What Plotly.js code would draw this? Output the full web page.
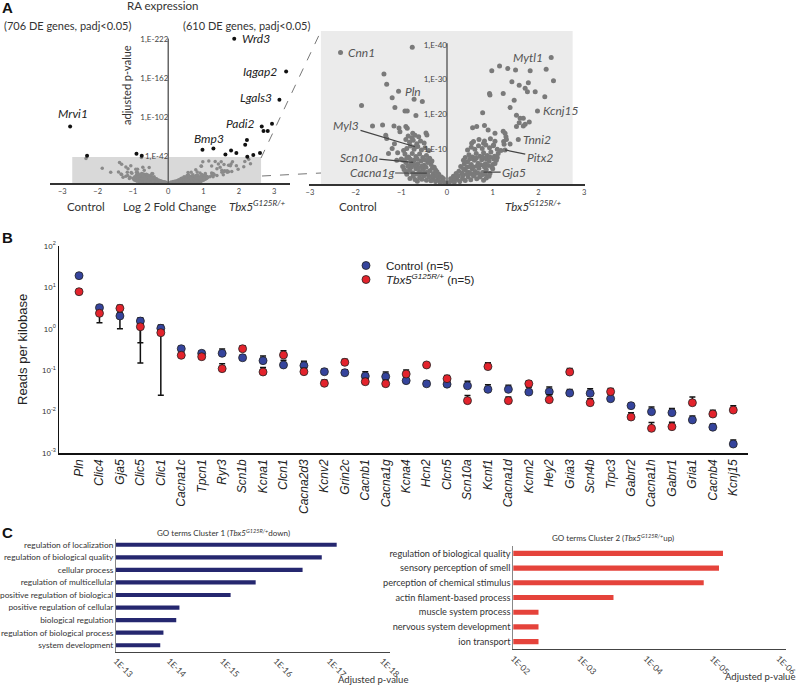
<!DOCTYPE html>
<html>
<head>
<meta charset="utf-8">
<script src="https://cdn.plot.ly/plotly-3.0.1.min.js"></script>
<style>
  html, body { margin: 0; padding: 0; background: #fff; }
  #chart { width: 800px; height: 686px; }
</style>
</head>
<body>
<div id="chart"></div>
<script>
// ---- Panel A: volcano, log2 fold change vs -log10(padj) ----
// genes below 1E-40 (grey, shown in both the overview and the zoom)
const volX = [
  -0.76, -1.38, -1.32, -1.20, -0.72, -0.54, -1.87, -1.14, -0.92, -0.87, -0.68, -1.63, -1.41, -1.16,
  -1.05, -0.90, -0.87, -1.03, -1.34, -1.32, -0.75, -0.70, -0.77, -0.46, -0.44,
  0.98, 1.15, 1.33, 1.50, 1.82, 2.17, 2.33, 0.93, 0.94, 1.23, 1.42, 1.58, 1.78, 1.71, 1.76, 1.93,
  1.47, 2.14, 1.38, 0.78, 1.52, 1.60, 1.67, 1.58, 1.71, 1.80, 1.52, 1.67,
  0.56, 0.65, 0.82, 0.90, 1.05, 1.23, 1.27, 1.29, 1.24, 1.38, 1.02, 0.80, 0.54,
  -0.05, -0.10, -0.15, -0.20, -0.25, -0.30, -0.35, -0.40, -0.45, -0.50, -0.55, -0.60, -0.65, -0.70,
  -0.12, -0.18, -0.22, -0.30, -0.38, -0.45, -0.52, -0.60, -0.68, -0.75, -0.82, -0.88,
  -0.28, -0.35, -0.42, -0.50, -0.57, -0.64, -0.72, -0.80, -0.90, -0.97,
  -0.38, -0.45, -0.53, -0.60, -0.68, -0.76, -0.84, -0.92, -1.00,
  -0.40, -0.48, -0.56, -0.64, -0.72, -0.80, -0.88, -0.95, -1.08,
  -0.50, -0.58, -0.66, -0.74, -0.82, -0.90, -1.15, -0.62, -0.85, -1.20, -1.28, -1.10,
  -0.08, -0.16, -0.24, -0.33, -0.42, -0.50, -0.58, -0.66, -0.74, -0.81, -0.90, -0.25, -0.32, -0.46,
  -0.55, -0.62, -0.70, -0.78, -0.86, -0.94, -0.33, -0.40, -0.48, -0.65, -0.80, -0.88, -0.96,
  0.05, 0.10, 0.16, 0.22, 0.28, 0.34, 0.40, 0.46, 0.52, 0.58, 0.65, 0.72, 0.80, 0.86,
  0.14, 0.20, 0.26, 0.33, 0.40, 0.47, 0.55, 0.62, 0.70, 0.78, 0.86, 0.94, 1.00,
  0.30, 0.38, 0.45, 0.53, 0.60, 0.68, 0.76, 0.84, 0.92, 1.00, 1.08,
  0.40, 0.48, 0.56, 0.64, 0.72, 0.80, 0.88, 0.96, 1.04, 1.12,
  0.45, 0.53, 0.61, 0.69, 0.77, 0.85, 0.93, 1.01, 1.10, 1.18,
  0.58, 0.70, 0.82, 0.95, 1.05, 1.25, 1.30,
  0.08, 0.17, 0.25, 0.35, 0.44, 0.52, 0.60, 0.68, 0.76, 0.84, 0.92, 0.36, 0.44, 0.50, 0.58,
  0.66, 0.74, 0.82, 0.90, 0.98, 1.05, 0.36, 0.50, 0.64, 0.78, 0.86, 0.94, 1.02, 1.10
];
const volY = [
  39.3, 31.6, 28.7, 24.8, 24.4, 23.7, 22.6, 22.0, 21.0, 21.0, 19.7, 16.7, 17.0, 16.7,
  16.1, 16.5, 16.0, 15.0, 14.0, 13.1, 14.6, 14.0, 13.3, 14.7, 14.1,
  32.6, 33.9, 33.2, 32.8, 32.6, 33.0, 29.7, 26.0, 25.6, 26.0, 29.4, 28.4, 29.1, 27.5, 26.5, 26.5,
  24.1, 25.1, 22.0, 20.5, 19.8, 18.9, 18.9, 17.6, 17.2, 17.8, 16.5, 16.7,
  16.2, 16.5, 16.8, 15.5, 14.6, 15.2, 14.6, 13.6, 12.2, 11.5, 11.2, 11.7, 11.7,
  0.4, 0.8, 0.5, 1.2, 0.7, 1.5, 0.9, 2.0, 1.1, 2.4, 1.4, 1.8, 0.8, 1.3,
  2.0, 2.8, 3.5, 3.0, 3.8, 3.3, 4.2, 3.6, 4.4, 3.2, 4.0, 2.8,
  4.8, 5.6, 6.2, 5.4, 6.6, 5.8, 6.8, 5.6, 6.2, 5.0,
  7.4, 8.2, 7.6, 8.6, 7.9, 8.8, 7.8, 8.6, 7.2,
  9.6, 10.4, 9.8, 10.8, 10.0, 10.9, 10.2, 9.6, 9.0,
  11.8, 12.4, 11.6, 12.6, 12.0, 12.8, 11.6, 13.6, 13.8, 10.2, 8.8, 6.8,
  1.6, 1.9, 2.3, 2.2, 2.9, 3.1, 2.7, 2.9, 2.2, 1.6, 3.6, 4.0, 4.5, 4.8,
  5.2, 4.7, 5.4, 4.8, 5.1, 4.2, 6.6, 7.0, 6.9, 7.2, 7.1, 7.5, 6.8,
  0.4, 0.9, 0.5, 1.3, 0.7, 1.6, 1.0, 2.1, 1.2, 2.3, 1.5, 2.0, 1.1, 1.7,
  2.2, 3.0, 3.7, 3.1, 4.0, 3.4, 4.3, 3.6, 4.5, 3.3, 4.1, 3.0, 4.4,
  5.0, 5.8, 6.4, 5.6, 6.8, 6.0, 7.0, 5.8, 6.6, 5.6, 6.8,
  7.6, 8.4, 7.8, 8.8, 8.0, 9.0, 8.2, 9.2, 8.0, 8.8,
  9.8, 10.6, 10.0, 11.0, 10.2, 11.2, 10.4, 11.0, 10.0, 9.6,
  12.2, 12.8, 12.4, 13.0, 12.3, 11.4, 12.8,
  1.5, 1.8, 2.3, 2.6, 2.9, 3.0, 2.8, 3.1, 2.6, 2.9, 2.2, 4.4, 4.9, 5.0, 4.9,
  5.2, 5.5, 4.9, 5.3, 4.9, 5.9, 6.8, 7.2, 7.4, 7.8, 7.2, 7.8, 7.2, 7.6
];
// genes above 1E-40 (black, overview only)
const topX = [-2.30, -0.90, -0.75, 2.94, 2.70, 2.82, 2.23, 2.18, 0.97, 1.62, 1.78, 1.93, 2.24, 2.41, 2.60];
const topY = [42, 45, 42, 91, 80, 80, 66, 59, 51, 44, 50, 46, 40.5, 43, 46];
// labelled genes
const topGenes = ['Mrvi1', 'Wrd3', 'Iqgap2', 'Lgals3', 'Padi2', 'Bmp3'];
const topGeneX = [-2.78, 1.87, 3.34, 3.15, 2.65, 1.28];
const topGeneY = [87, 222, 171.5, 128, 87, 53];
const zoomGenes = ['Cnn1', 'Pln', 'Mytl1', 'Kcnj15', 'Tnni2', 'Myl3', 'Scn10a', 'Cacna1g', 'Pitx2', 'Gja5'];
const zoomGeneX = [-2.33, -1.06, 2.28, 1.98, 1.56, -0.70, -0.74, -0.44, 1.27, 0.80];
const zoomGeneY = [37.8, 26.7, 36.4, 21.0, 12.8, 10.7, 6.2, 3.1, 9.8, 3.4];

// ---- Panel B: reads per kilobase ----
const ionGenes = ['Pln', 'Clic4', 'Gja5', 'Clic5', 'Clic1', 'Cacna1c', 'Tpcn1', 'Ryr3', 'Scn1b', 'Kcna1',
  'Clcn1', 'Cacna2d3', 'Kcnv2', 'Grin2c', 'Cacnb1', 'Cacna1g', 'Kcna4', 'Hcn2', 'Clcn5', 'Scn10a',
  'Kcnf1', 'Cacna1d', 'Kcnn2', 'Hey2', 'Gria3', 'Scn4b', 'Trpc3', 'Gabrr2', 'Cacna1h', 'Gabrr1',
  'Gria1', 'Cacnb4', 'Kcnj15'];
const ctrlRpk = [19.2, 3.24, 2.04, 1.54, 1.03, 0.33, 0.256, 0.256, 0.2, 0.17, 0.134, 0.129, 0.092, 0.087,
  0.072, 0.07, 0.056, 0.047, 0.046, 0.042, 0.0345, 0.0345, 0.0297, 0.0303, 0.0281, 0.0276, 0.0205,
  0.0139, 0.00995, 0.0094, 0.0063, 0.0042, 0.00165];
const ctrlErrUp = [2.0, 0.4, 0.4, 0.3, 0.2, 0.05, 0.04, 0.07, 0.03, 0.05, 0.04, 0.035, 0.015, 0.015,
  0.02, 0.02, 0.012, 0.008, 0.01, 0.012, 0.01, 0.009, 0.009, 0.009, 0.006, 0.008, 0.006,
  0.002, 0.003, 0.0025, 0.0015, 0.0008, 0.0004];
const ctrlErrDown = [0, 0, 1.04, 1.39, 0, 0, 0, 0, 0, 0, 0, 0, 0, 0, 0, 0, 0, 0, 0, 0, 0, 0, 0, 0, 0, 0, 0, 0, 0, 0, 0, 0, 0];
const tbxRpk = [7.87, 2.37, 3.13, 1.12, 0.805, 0.229, 0.212, 0.109, 0.33, 0.0906, 0.233, 0.092, 0.0483,
  0.155, 0.0527, 0.0472, 0.0809, 0.134, 0.0624, 0.0184, 0.122, 0.0184, 0.0472, 0.0194, 0.0906,
  0.0164, 0.0303, 0.0074, 0.00395, 0.00432, 0.0164, 0.00875, 0.0109];
const tbxErrUp = [1.0, 0.3, 0.6, 0.2, 0.1, 0.03, 0.03, 0.035, 0.06, 0.025, 0.06, 0.02, 0.01, 0.03,
  0.01, 0.01, 0.02, 0.015, 0.012, 0.006, 0.03, 0.004, 0.008, 0.006, 0.02, 0.004, 0.006,
  0.002, 0.0015, 0.0012, 0.006, 0.002, 0.003];
const tbxErrDown = [0, 0.97, 0, 0.66, 0.78, 0, 0, 0, 0, 0, 0, 0, 0, 0, 0, 0, 0, 0, 0, 0, 0, 0, 0, 0, 0, 0, 0, 0, 0, 0, 0, 0, 0];
const rpkTicks = [0.001, 0.01, 0.1, 1, 10, 100];
const rpkTickText = ['10<sup>-3</sup>', '10<sup>-2</sup>', '10<sup>-1</sup>', '10<sup>0</sup>', '10<sup>1</sup>', '10<sup>2</sup>'];

// ---- Panel C: GO terms, -log10(adjusted p) ----
const go1Terms = ['regulation of localization', 'regulation of biological quality', 'cellular process',
  'regulation of multicellular', 'positive regulation of biological', 'positive regulation of cellular',
  'biological regulation', 'regulation of biological process', 'system development'];
const go1Score = [17.14, 16.86, 16.50, 15.62, 15.15, 14.19, 14.13, 13.89, 13.83];
const go1Ticks = [13, 14, 15, 16, 17, 18];
const go1TickText = ['1E-13', '1E-14', '1E-15', '1E-16', '1E-17', '1E-18'];
const go2Terms = ['regulation of biological quality', 'sensory perception of smell', 'perception of chemical stimulus',
  'actin filament-based process', 'muscle system process', 'nervous system development', 'ion transport'];
const go2Score = [5.16, 5.10, 4.87, 3.51, 2.38, 2.38, 2.38];
const go2Ticks = [2, 3, 4, 5, 6];
const go2TickText = ['1E-02', '1E-03', '1E-04', '1E-05', '1E-06'];

// ---- helpers: pixel -> paper ----
const W = 800, H = 686;
const px = x => x / W;
const py = y => 1 - y / H;
const domX = (a, b) => [px(a), px(b)];
const domY = (top, bottom) => [py(bottom), py(top)];

const CAL = 'Lato, "Open Sans", sans-serif';
const ARIAL = '"Liberation Sans", Arial, sans-serif';
const BLUE = '#35449c', RED = '#e3232c';

const traces = [
  { x: volX, y: volY, xaxis: 'x', yaxis: 'y', type: 'scatter', mode: 'markers', showlegend: false,
    marker: { size: 3.5, color: '#8a8a8a' } },
  { x: zoomGeneX, y: zoomGeneY, xaxis: 'x', yaxis: 'y', type: 'scatter', mode: 'markers', showlegend: false,
    marker: { size: 3.5, color: '#8a8a8a' } },
  { x: topX.concat(topGeneX), y: topY.concat(topGeneY), xaxis: 'x', yaxis: 'y', type: 'scatter', mode: 'markers',
    showlegend: false, marker: { size: 4, color: '#111' } },
  { x: volX.concat(zoomGeneX), y: volY.concat(zoomGeneY), xaxis: 'x2', yaxis: 'y2', type: 'scatter', mode: 'markers',
    showlegend: false, marker: { size: 5, color: '#7a7a7a' } },
  { x: ionGenes, y: ctrlRpk, xaxis: 'x3', yaxis: 'y3', type: 'scatter', mode: 'markers', name: 'Control (n=5)',
    legend: 'legend',
    error_y: { type: 'data', symmetric: false, array: ctrlErrUp, arrayminus: ctrlErrDown, color: '#111', thickness: 1.5, width: 3 },
    marker: { size: 8, color: BLUE, line: { color: '#222', width: 0.8 } } },
  { x: ionGenes, y: tbxRpk, xaxis: 'x3', yaxis: 'y3', type: 'scatter', mode: 'markers',
    name: '<i>Tbx5<sup>G125R/+</sup></i> (n=5)', legend: 'legend2',
    error_y: { type: 'data', symmetric: false, array: tbxErrUp, arrayminus: tbxErrDown, color: '#111', thickness: 1.5, width: 3 },
    marker: { size: 8, color: RED, line: { color: '#222', width: 0.8 } } },
  { x: go1Score, y: go1Terms, xaxis: 'x4', yaxis: 'y4', type: 'bar', orientation: 'h', width: 0.33,
    showlegend: false, marker: { color: '#25276f' } },
  { x: go2Score, y: go2Terms, xaxis: 'x5', yaxis: 'y5', type: 'bar', orientation: 'h', width: 0.35,
    showlegend: false, marker: { color: '#e5433b' } }
];

function note(text, x, y, opts) {
  return Object.assign({ text, x: px(x), y: py(y), xref: 'paper', yref: 'paper', showarrow: false,
    xanchor: 'center', yanchor: 'middle',
    font: { family: CAL, size: 12, color: '#333' } }, opts || {});
}

const annotations = [
  note('<b>A</b>', 7, 8, { font: { family: ARIAL, size: 15, color: '#111' } }),
  note('RA expression', 162, 6, { font: { family: CAL, size: 11.5, color: '#333' } }),
  note('(706 DE genes, padj<0.05)', 67, 25, { font: { family: CAL, size: 11, color: '#333' } }),
  note('(610 DE genes, padj<0.05)', 246, 25, { font: { family: CAL, size: 11, color: '#333' } }),
  note('adjusted p-value', 127, 85, { textangle: -90, font: { family: CAL, size: 11, color: '#333' } }),
  note('Control', 86, 207, { font: { family: CAL, size: 11.5, color: '#333' } }),
  note('Log 2 Fold Change', 169, 207, { font: { family: CAL, size: 11.5, color: '#333' } }),
  note('<i>Tbx5<sup>G125R/+</sup></i>', 257, 205, { font: { family: CAL, size: 11.5, color: '#333' } }),
  note('Control', 358, 207, { font: { family: CAL, size: 11.5, color: '#333' } }),
  note('<i>Tbx5<sup>G125R/+</sup></i>', 533, 205, { font: { family: CAL, size: 11.5, color: '#333' } }),
  note('<b>B</b>', 7, 238, { font: { family: ARIAL, size: 15, color: '#111' } }),
  note('Reads per kilobase', 22, 350, { textangle: -90, font: { family: ARIAL, size: 13, color: '#222' } }),
  note('<b>C</b>', 7, 532, { font: { family: ARIAL, size: 15, color: '#111' } }),
  note('GO terms Cluster 1 (<i>Tbx5<sup>G125R/+</sup></i>down)', 223, 532, { font: { family: CAL, size: 8, color: '#333' } }),
  note('GO terms Cluster 2 (<i>Tbx5<sup>G125R/+</sup></i>up)', 613, 537, { font: { family: CAL, size: 8, color: '#333' } }),
  note('Adjusted p-value', 373, 679, { font: { family: CAL, size: 9.5, color: '#333' } }),
  note('Adjusted p-value', 797, 676, { xanchor: 'right', font: { family: CAL, size: 9.5, color: '#333' } })
];

// gene labels: offsets are layout only
const topLabelStyle = {
  Mrvi1: { xshift: 3, yshift: 13 },
  Wrd3: { xanchor: 'left', xshift: 6 },
  Iqgap2: { xanchor: 'right', xshift: -7 },
  Lgals3: { xanchor: 'right', xshift: -5, yshift: 2 },
  Padi2: { xanchor: 'right', xshift: -5, yshift: 3 },
  Bmp3: { xshift: -4, yshift: 10 }
};
topGenes.forEach((g, i) => {
  annotations.push(Object.assign({ text: '<i>' + g + '</i>', x: topGeneX[i], y: topGeneY[i], xref: 'x', yref: 'y',
    showarrow: false, font: { family: CAL, size: 12, color: '#222' } }, topLabelStyle[g]));
});
const zoomLabelStyle = {
  Cnn1: { xanchor: 'left', xshift: 5 },
  Pln: { xanchor: 'left', xshift: 4 },
  Mytl1: { xanchor: 'right', xshift: -6 },
  Kcnj15: { xanchor: 'left', xshift: 4 },
  Tnni2: { xanchor: 'left', xshift: 3 },
  Myl3: { showarrow: true, ax: -2.21, ay: 16.7 },
  Scn10a: { showarrow: true, ax: -1.93, ay: 7.7 },
  Cacna1g: { showarrow: true, ax: -1.65, ay: 3.2 },
  Pitx2: { showarrow: true, ax: 2.03, ay: 7.7 },
  Gja5: { showarrow: true, ax: 1.47, ay: 3.4 }
};
zoomGenes.forEach((g, i) => {
  annotations.push(Object.assign({ text: '<i>' + g + '</i>', x: zoomGeneX[i], y: zoomGeneY[i], xref: 'x2', yref: 'y2',
    axref: 'x2', ayref: 'y2', showarrow: false, arrowhead: 0, arrowwidth: 1.2, arrowcolor: '#444',
    font: { family: CAL, size: 12, color: '#555' } }, zoomLabelStyle[g]));
});

const shapes = [
  { type: 'rect', xref: 'x', yref: 'y', x0: -2.72, x1: 2.63, y0: 0, y1: 40, fillcolor: '#d9d9d9', line: { width: 0 }, layer: 'below' },
  { type: 'rect', xref: 'x2', yref: 'y2', x0: -2.76, x1: 2.75, y0: 0, y1: 44, fillcolor: '#ebebeb', line: { width: 0 }, layer: 'below' },
  { type: 'line', xref: 'x', yref: 'y', x0: 0, x1: 0, y0: 0, y1: 222.5, line: { color: '#666', width: 1.5 } },
  { type: 'line', xref: 'x2', yref: 'y2', x0: 0, x1: 0, y0: 0, y1: 40.5, line: { color: '#444', width: 1.2 } },
  { type: 'line', xref: 'paper', yref: 'paper', x0: px(261), y0: py(158), x1: px(321), y1: py(31), line: { color: '#777', width: 1, dash: 'dash' } },
  { type: 'line', xref: 'paper', yref: 'paper', x0: px(262), y0: py(176), x1: px(321), y1: py(173), line: { color: '#777', width: 1, dash: 'dash' } }
];

const baseAxis = { showgrid: false, zeroline: false, ticks: '', fixedrange: true };
const legendBase = { xanchor: 'left', yanchor: 'top', bgcolor: 'rgba(0,0,0,0)',
  font: { family: ARIAL, size: 11.5, color: '#222' } };

const layout = {
  width: W, height: H,
  margin: { l: 0, r: 0, t: 0, b: 0 },
  paper_bgcolor: '#fff', plot_bgcolor: 'rgba(0,0,0,0)',
  hovermode: false,
  showlegend: true,
  legend: Object.assign({ x: px(346), y: py(251) }, legendBase),
  legend2: Object.assign({ x: px(346), y: py(265) }, legendBase),
  xaxis: Object.assign({}, baseAxis, { domain: domX(50, 290), anchor: 'y', range: [-3.35, 3.45],
    tickvals: [-3, -2, -1, 0, 1, 2, 3], showline: true, linecolor: '#333', linewidth: 1.5,
    tickfont: { family: CAL, size: 7.5, color: '#444' } }),
  yaxis: Object.assign({}, baseAxis, { domain: domY(35, 183), anchor: 'free', position: px(168.3),
    range: [0, 227.7], tickvals: [42, 102, 162, 222], ticktext: ['1,E-42', '1,E-102', '1,E-162', '1,E-222'],
    tickfont: { family: CAL, size: 8, color: '#444' } }),
  xaxis2: Object.assign({}, baseAxis, { domain: domX(309, 585), anchor: 'y2', range: [-3.02, 3.02],
    tickvals: [-3, -2, -1, 0, 1, 2, 3], showline: true, linecolor: '#333', linewidth: 1.5,
    tickfont: { family: CAL, size: 7.5, color: '#444' } }),
  yaxis2: Object.assign({}, baseAxis, { domain: domY(31, 184), anchor: 'free', position: px(447),
    range: [0, 44], tickvals: [10, 20, 30, 40], ticktext: ['1,E-10', '1,E-20', '1,E-30', '1,E-40'],
    tickfont: { family: CAL, size: 8, color: '#444' } }),
  xaxis3: Object.assign({}, baseAxis, { domain: domX(59, 748), anchor: 'y3', type: 'category',
    range: [-0.98, 32.72], tickangle: -90, showline: true, linecolor: '#111', linewidth: 1.5,
    tickfont: { family: ARIAL, size: 12, color: '#222', style: 'italic' } }),
  yaxis3: Object.assign({}, baseAxis, { domain: domY(246, 453), anchor: 'x3', type: 'log', range: [-3, 2],
    tickvals: rpkTicks, ticktext: rpkTickText, showline: true, linecolor: '#111', linewidth: 1.5,
    tickfont: { family: ARIAL, size: 8, color: '#333' } }),
  xaxis4: Object.assign({}, baseAxis, { domain: domX(116, 390), anchor: 'y4', range: [13, 18.14],
    tickvals: go1Ticks, ticktext: go1TickText, tickangle: 45, showline: true, linecolor: '#444', linewidth: 1.2,
    tickfont: { family: CAL, size: 8.5, color: '#444' } }),
  yaxis4: Object.assign({}, baseAxis, { domain: domY(538.5, 651.5), anchor: 'x4', type: 'category',
    autorange: 'reversed', showline: true, linecolor: '#888', linewidth: 1,
    tickfont: { family: CAL, size: 8.3, color: '#333' } }),
  xaxis5: Object.assign({}, baseAxis, { domain: domX(513.3, 786), anchor: 'y5', range: [2, 6.11],
    tickvals: go2Ticks, ticktext: go2TickText, tickangle: 45, showline: true, linecolor: '#444', linewidth: 1.2,
    tickfont: { family: CAL, size: 8.5, color: '#444' } }),
  yaxis5: Object.assign({}, baseAxis, { domain: domY(546, 649), anchor: 'x5', type: 'category',
    autorange: 'reversed', showline: true, linecolor: '#888', linewidth: 1,
    tickfont: { family: CAL, size: 9.2, color: '#333' } }),
  annotations: annotations,
  shapes: shapes
};

Plotly.newPlot('chart', traces, layout, { staticPlot: true, displayModeBar: false });
</script>
</body>
</html>
